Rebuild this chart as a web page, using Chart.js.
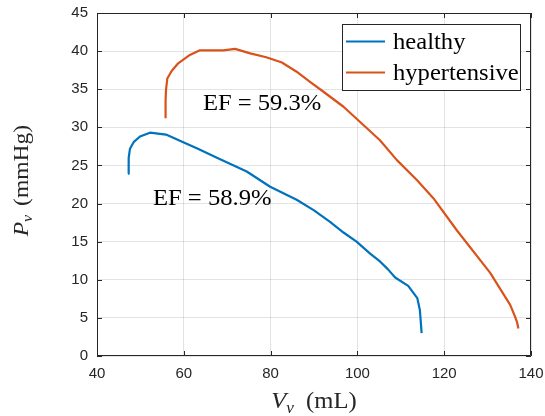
<!DOCTYPE html>
<html>
<head>
<meta charset="utf-8">
<script src="https://cdn.jsdelivr.net/npm/chart.js@4/dist/chart.umd.min.js"></script>
<style>
  html, body { margin: 0; padding: 0; background: #fff; }
</style>
</head>
<body>
<canvas id="pvLoop" width="545" height="416"></canvas>
<script>
// ventricular pressure-volume curves
const healthyV = [47.2, 47.3, 47.6, 48.5, 49.9, 52.2, 55.9, 60.0, 63.0, 68.0, 74.5, 79.9, 86.0, 90.0, 93.7, 96.8, 99.8, 103.0, 105.2, 107.0, 108.7, 111.7, 113.8, 114.4, 114.6, 114.8];
const healthyP = [23.9, 26.0, 27.2, 28.1, 28.8, 29.3, 29.05, 28.0, 27.25, 25.9, 24.2, 22.2, 20.5, 19.1, 17.6, 16.2, 15.0, 13.4, 12.4, 11.4, 10.3, 9.2, 7.6, 6.0, 4.5, 3.0];

const hyperV = [55.8, 55.8, 55.9, 56.2, 57.2, 58.7, 61.4, 63.7, 66.0, 69.1, 71.8, 75.3, 79.0, 82.6, 86.0, 89.0, 92.1, 96.8, 105.2, 109.1, 113.7, 117.5, 122.9, 130.6, 135.2, 136.3, 136.8, 137.1];
const hyperP = [31.2, 33.5, 34.9, 36.4, 37.4, 38.4, 39.5, 40.1, 40.1, 40.1, 40.3, 39.7, 39.2, 38.5, 37.3, 36.0, 34.7, 32.7, 28.3, 25.7, 23.1, 20.7, 16.5, 10.9, 6.7, 5.2, 4.4, 3.6];

const seriesNames = ['healthy', 'hypertensive'];
const seriesColors = ['#0072BD', '#D95319'];
const efLabels = ['EF = 58.9%', 'EF = 59.3%'];
// text anchor (left edge, vertical centre) in data units
const efAnchorV = [52.9, 64.4];
const efAnchorP = [20.6, 33.1];

const xTicks = [40, 60, 80, 100, 120, 140];
const yTicks = [0, 5, 10, 15, 20, 25, 30, 35, 40, 45];

const axisInk = '#262626';
const serif = '"Liberation Serif", "Times New Roman", serif';
const stretch = 1.07; // widen the serif face a little

// draw text slightly stretched horizontally, returns drawn width
function wideText(ctx, text, x, y) {
  ctx.save();
  ctx.translate(x, y);
  ctx.scale(stretch, 1);
  ctx.fillText(text, 0, 0);
  ctx.restore();
  return ctx.measureText(text).width * stretch;
}

// italic symbol with italic subscript, a gap, then upright unit text
function labelWidth(ctx, size, main, sub, gap, rest) {
  ctx.font = 'italic ' + size + 'px ' + serif;
  let w = ctx.measureText(main).width;
  ctx.font = 'italic ' + Math.round(size * 0.7) + 'px ' + serif;
  w += ctx.measureText(sub).width + 1;
  ctx.font = size + 'px ' + serif;
  w += ctx.measureText(rest).width;
  return w * stretch + gap;
}
function drawLabel(ctx, size, main, sub, gap, rest, x, y) {
  ctx.textBaseline = 'alphabetic';
  ctx.textAlign = 'left';
  ctx.fillStyle = axisInk;
  ctx.font = 'italic ' + size + 'px ' + serif;
  x += wideText(ctx, main, x, y);
  ctx.font = 'italic ' + Math.round(size * 0.7) + 'px ' + serif;
  x += wideText(ctx, sub, x, y + size * 0.2) + 1 + gap;
  ctx.font = size + 'px ' + serif;
  wideText(ctx, rest, x, y);
}

const framePlugin = {
  id: 'frame',
  afterDatasetsDraw(chart) {
    const ctx = chart.ctx;
    const a = chart.chartArea;
    const xs = chart.scales.x, ys = chart.scales.y;
    ctx.save();
    ctx.strokeStyle = axisInk;
    ctx.lineWidth = 1;
    ctx.beginPath();
    ctx.rect(a.left + 0.5, a.top + 0.5, a.right - a.left - 1, a.bottom - a.top - 1);
    xTicks.forEach(v => {
      const px = Math.round(xs.getPixelForValue(v)) + 0.5;
      ctx.moveTo(px, a.bottom); ctx.lineTo(px, a.bottom - 5);
      ctx.moveTo(px, a.top); ctx.lineTo(px, a.top + 5);
    });
    yTicks.forEach(v => {
      const py = Math.round(ys.getPixelForValue(v)) + 0.5;
      ctx.moveTo(a.left, py); ctx.lineTo(a.left + 5, py);
      ctx.moveTo(a.right, py); ctx.lineTo(a.right - 5, py);
    });
    ctx.stroke();
    ctx.restore();
  },
  afterDraw(chart) {
    const ctx = chart.ctx;
    const a = chart.chartArea;
    const xs = chart.scales.x, ys = chart.scales.y;
    ctx.save();

    // ejection fraction notes
    ctx.font = '23px ' + serif;
    ctx.fillStyle = '#000';
    ctx.textBaseline = 'middle';
    ctx.textAlign = 'left';
    efLabels.forEach((t, i) => {
      wideText(ctx, t, xs.getPixelForValue(efAnchorV[i]), ys.getPixelForValue(efAnchorP[i]));
    });

    // legend box in the upper right corner
    const boxR = a.right - 11, boxT = a.top + 11, boxW = 178, boxH = 66;
    const boxL = boxR - boxW;
    ctx.fillStyle = '#fff';
    ctx.fillRect(boxL, boxT, boxW, boxH);
    ctx.strokeStyle = axisInk;
    ctx.lineWidth = 1;
    ctx.strokeRect(boxL + 0.5, boxT + 0.5, boxW, boxH);
    chart.data.datasets.forEach((ds, i) => {
      const ly = boxT + 17.5 + i * 31;
      ctx.strokeStyle = ds.borderColor;
      ctx.lineWidth = 2.2;
      ctx.beginPath();
      ctx.moveTo(boxL + 4, ly);
      ctx.lineTo(boxL + 43, ly);
      ctx.stroke();
      ctx.fillStyle = '#000';
      ctx.font = '23px ' + serif;
      ctx.textBaseline = 'middle';
      wideText(ctx, ds.label, boxL + 51, ly + 1);
    });

    // axis titles
    const xw = labelWidth(ctx, 23, 'V', 'v', 5, ' (mL)');
    drawLabel(ctx, 23, 'V', 'v', 5, ' (mL)', (a.left + a.right) / 2 - xw / 2, 408);

    ctx.translate(28, (a.top + a.bottom) / 2 - 4);
    ctx.rotate(-Math.PI / 2);
    const yw = labelWidth(ctx, 22, 'P', 'v', 2, ' (mmHg)');
    drawLabel(ctx, 22, 'P', 'v', 2, ' (mmHg)', -yw / 2, 0);
    ctx.restore();
  }
};

const tickFont = { family: '"Liberation Sans", Arial, sans-serif', size: 15 };

new Chart(document.getElementById('pvLoop'), {
  type: 'scatter',
  data: {
    datasets: [
      {
        label: seriesNames[0],
        data: toPoints(healthyV, healthyP),
        borderColor: seriesColors[0],
        showLine: true
      },
      {
        label: seriesNames[1],
        data: toPoints(hyperV, hyperP),
        borderColor: seriesColors[1],
        showLine: true
      }
    ]
  },
  options: {
    responsive: false,
    animation: false,
    devicePixelRatio: 1,
    layout: { padding: { left: 0, right: 14, top: 13, bottom: 0 } },
    elements: {
      point: { radius: 0, hoverRadius: 0 },
      line: { borderWidth: 2.2, tension: 0, borderJoinStyle: 'round', borderCapStyle: 'butt' }
    },
    plugins: {
      legend: { display: false },
      tooltip: { enabled: false }
    },
    scales: {
      x: {
        type: 'linear',
        min: 40,
        max: 140,
        afterBuildTicks: s => { s.ticks = xTicks.map(v => ({ value: v })); },
        afterFit: s => { s.height = 60; s.paddingLeft = 0; s.paddingRight = 0; },
        ticks: { font: tickFont, color: axisInk, padding: 9, maxRotation: 0 },
        grid: { color: 'rgba(38,38,38,0.13)', drawTicks: false },
        border: { display: false }
      },
      y: {
        type: 'linear',
        min: 0,
        max: 45,
        afterBuildTicks: s => { s.ticks = yTicks.map(v => ({ value: v })); },
        afterFit: s => { s.width = 97; s.paddingTop = 0; s.paddingBottom = 0; },
        ticks: { font: tickFont, color: axisInk, padding: 9 },
        grid: { color: 'rgba(38,38,38,0.13)', drawTicks: false },
        border: { display: false }
      }
    }
  },
  plugins: [framePlugin]
});

function toPoints(xs, ys) {
  return xs.map((x, i) => ({ x: x, y: ys[i] }));
}
</script>
</body>
</html>
